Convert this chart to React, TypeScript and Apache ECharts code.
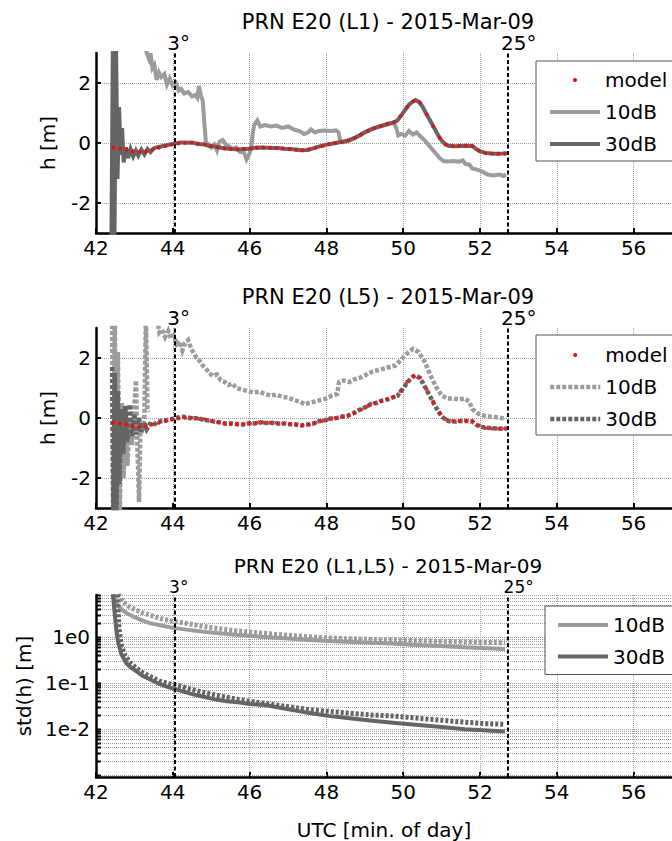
import React, { useEffect, useRef } from 'react';
import * as echarts from 'echarts';

const FONT = 'DejaVu Sans';
const LIGHT = '#9c9c9c';
const DARK = '#656565';
const RED = '#ff0000';
const GRIDLINE = '#a0a0a0';

const titles = ['PRN E20 (L1) - 2015-Mar-09', 'PRN E20 (L5) - 2015-Mar-09', 'PRN E20 (L1,L5) - 2015-Mar-09'];
const X_MIN = 42;
const X_MAX = 57;
const X_STEP = 2;
const H_MIN = -3;
const H_MAX = 3;
const hTicks = [-2, 0, 2];
const STD_MIN = 0.0009;
const STD_MAX = 8.2;
const stdLabelValues = [1, 0.1, 0.01];
const logGridValues = [
  0.001, 0.002, 0.003, 0.004, 0.005, 0.006, 0.007, 0.008, 0.009,
  0.01, 0.02, 0.03, 0.04, 0.05, 0.06, 0.07, 0.08, 0.09,
  0.1, 0.2, 0.3, 0.4, 0.5, 0.6, 0.7, 0.8, 0.9,
  1, 2, 3, 4, 5, 6, 7, 8,
];
const elevationX = [44.05, 52.72];
const elevationLabels = ['3°', '25°'];

// model (red dots), shared shape for L1 and L5
const modelH = [
  [42.45, -0.15], [42.62, -0.18], [42.79, -0.22], [42.96, -0.27], [43.13, -0.3], [43.3, -0.28],
  [43.47, -0.22], [43.64, -0.16], [43.81, -0.1], [43.98, -0.05], [44.15, -0.02], [44.32, 0.01],
  [44.49, 0.01], [44.66, -0.02], [44.83, -0.05], [45.0, -0.1], [45.17, -0.14], [45.34, -0.18],
  [45.51, -0.2], [45.68, -0.21], [45.85, -0.2], [46.02, -0.18], [46.19, -0.16], [46.36, -0.15],
  [46.53, -0.16], [46.7, -0.17], [46.87, -0.18], [47.04, -0.2], [47.21, -0.23], [47.38, -0.24],
  [47.55, -0.22], [47.72, -0.16], [47.89, -0.1], [48.06, -0.04], [48.23, 0.0], [48.4, 0.03],
  [48.57, 0.08], [48.74, 0.17], [48.91, 0.28], [49.08, 0.4], [49.25, 0.5], [49.42, 0.57],
  [49.59, 0.63], [49.76, 0.7], [49.93, 0.9], [50.1, 1.2], [50.27, 1.4], [50.44, 1.35],
  [50.61, 0.95], [50.78, 0.55], [50.95, 0.17], [51.12, -0.05], [51.29, -0.1], [51.46, -0.1],
  [51.63, -0.09], [51.8, -0.1], [51.97, -0.25], [52.14, -0.33], [52.31, -0.35], [52.48, -0.36],
  [52.65, -0.35],
];

const l1Db10 = [
  [43.28, 3.5], [43.32, 3.0], [43.38, 2.8], [43.42, 3.0], [43.47, 2.5], [43.52, 2.6], [43.58, 2.1],
  [43.64, 2.35], [43.7, 2.2], [43.78, 2.3], [43.85, 1.95], [43.92, 2.15], [44.0, 1.9], [44.08, 2.0],
  [44.15, 1.75], [44.22, 1.8], [44.3, 1.65], [44.4, 1.7], [44.5, 1.55], [44.58, 1.6], [44.64, 1.5],
  [44.68, 1.9], [44.73, 1.6], [44.78, 1.4], [44.82, 0.7], [44.86, 0.05], [44.92, -0.05], [45.0, -0.15],
  [45.08, -0.05], [45.15, -0.25], [45.22, 0.05], [45.3, 0.1], [45.38, -0.05], [45.45, -0.1],
  [45.55, -0.2], [45.65, -0.15], [45.75, -0.3], [45.85, -0.3], [45.92, -0.55], [45.98, -0.4],
  [46.04, -0.2], [46.08, 0.3], [46.12, 0.6], [46.2, 0.75], [46.28, 0.55], [46.4, 0.6], [46.55, 0.55],
  [46.7, 0.58], [46.85, 0.5], [47.0, 0.55], [47.15, 0.45], [47.3, 0.4], [47.42, 0.3], [47.52, 0.35],
  [47.6, 0.45], [47.7, 0.35], [47.8, 0.4], [47.95, 0.42], [48.1, 0.4], [48.25, 0.42], [48.32, 0.35],
  [48.36, 0.05], [48.45, 0.02], [48.6, 0.08], [48.8, 0.2], [49.0, 0.35], [49.2, 0.48], [49.4, 0.55],
  [49.6, 0.62], [49.75, 0.68], [49.82, 0.5], [49.87, 0.25], [49.95, 0.3], [50.05, 0.25], [50.15, 0.4],
  [50.25, 0.28], [50.35, 0.35], [50.45, 0.22], [50.55, 0.1], [50.65, -0.05], [50.75, -0.2],
  [50.85, -0.35], [50.95, -0.5], [51.05, -0.6], [51.15, -0.62], [51.3, -0.6], [51.45, -0.62],
  [51.55, -0.58], [51.62, -0.7], [51.72, -0.72], [51.8, -0.85], [51.9, -0.88], [52.0, -0.92],
  [52.1, -0.98], [52.2, -1.05], [52.35, -1.08], [52.5, -1.05], [52.62, -1.1], [52.68, -1.05],
];

const l1Db30 = [
  [42.4, -3.5], [42.44, 3.5], [42.48, -3.5], [42.52, 3.5], [42.56, -1.2], [42.6, 1.2], [42.64, -0.4],
  [42.68, 0.5], [42.72, -0.65], [42.78, -0.15], [42.84, -0.5], [42.9, -0.2], [42.97, -0.45],
  [43.04, -0.25], [43.1, -0.42], [43.18, -0.22], [43.26, -0.38], [43.34, -0.2], [43.42, -0.3],
  [43.5, -0.18], [43.6, -0.14], [43.75, -0.1], [43.9, -0.06], [44.05, -0.02], [44.2, 0.02],
  [44.35, 0.01], [44.5, 0.02], [44.65, -0.03], [44.8, -0.04], [44.95, -0.1], [45.1, -0.12],
  [45.25, -0.16], [45.4, -0.18], [45.55, -0.2], [45.7, -0.22], [45.85, -0.2], [46.0, -0.19],
  [46.15, -0.16], [46.3, -0.15], [46.45, -0.16], [46.6, -0.17], [46.75, -0.17], [46.9, -0.19],
  [47.05, -0.2], [47.2, -0.22], [47.35, -0.24], [47.5, -0.23], [47.65, -0.18], [47.8, -0.12],
  [47.95, -0.07], [48.1, -0.03], [48.25, 0.0], [48.4, 0.04], [48.55, 0.08], [48.7, 0.15],
  [48.85, 0.25], [49.0, 0.36], [49.15, 0.45], [49.3, 0.52], [49.45, 0.58], [49.6, 0.64],
  [49.75, 0.68], [49.85, 0.75], [49.95, 0.92], [50.05, 1.1], [50.15, 1.28], [50.25, 1.38],
  [50.32, 1.43], [50.4, 1.38], [50.5, 1.22], [50.6, 0.98], [50.7, 0.75], [50.8, 0.52], [50.9, 0.28],
  [51.0, 0.08], [51.1, -0.05], [51.2, -0.1], [51.35, -0.11], [51.5, -0.1], [51.65, -0.09],
  [51.8, -0.1], [51.9, -0.2], [52.0, -0.28], [52.15, -0.33], [52.3, -0.35], [52.45, -0.36],
  [52.6, -0.35], [52.7, -0.34],
];

const l5Db10 = [
  [42.42, 3.5], [42.45, -3.5], [42.49, 3.5], [42.53, -3.5], [42.57, 2.2], [42.62, -3.2], [42.67, 0.5],
  [42.72, -2.0], [42.77, 0.2], [42.82, -1.6], [42.88, 0.0], [42.94, -0.9], [43.0, 0.4], [43.04, 1.25],
  [43.08, -1.0], [43.12, -2.8], [43.16, -0.2], [43.2, -0.5], [43.26, 0.1], [43.3, 3.5], [43.34, 0.3],
  [43.37, 0.2], [43.45, null], [43.6, 3.3], [43.65, 2.85], [43.72, 2.95], [43.8, 2.7], [43.88, 2.9],
  [43.95, 2.65], [44.02, 2.75], [44.1, 2.45], [44.18, 2.55], [44.25, 2.25], [44.32, 2.5], [44.4, 2.6],
  [44.48, 2.3], [44.55, 2.15], [44.62, 2.0], [44.7, 1.9], [44.78, 1.75], [44.86, 1.65], [44.95, 1.5],
  [45.05, 1.4], [45.15, 1.45], [45.25, 1.25], [45.35, 1.2], [45.45, 1.1], [45.55, 1.15], [45.65, 1.0],
  [45.8, 0.95], [45.95, 0.9], [46.1, 0.85], [46.25, 0.88], [46.4, 0.8], [46.55, 0.75], [46.7, 0.78],
  [46.85, 0.7], [47.0, 0.68], [47.15, 0.6], [47.3, 0.55], [47.45, 0.45], [47.55, 0.5], [47.7, 0.55],
  [47.85, 0.6], [48.0, 0.65], [48.15, 0.75], [48.28, 0.8], [48.33, 1.2], [48.45, 1.25], [48.6, 1.2],
  [48.75, 1.3], [48.9, 1.35], [49.05, 1.45], [49.2, 1.55], [49.35, 1.6], [49.5, 1.65], [49.65, 1.7],
  [49.8, 1.75], [49.95, 1.95], [50.1, 2.15], [50.25, 2.3], [50.4, 2.2], [50.55, 1.9], [50.7, 1.45],
  [50.85, 1.05], [51.0, 0.75], [51.15, 0.65], [51.3, 0.65], [51.45, 0.62], [51.6, 0.65], [51.72, 0.55],
  [51.8, 0.3], [51.95, 0.15], [52.1, 0.08], [52.25, 0.05], [52.4, 0.03], [52.55, 0.0], [52.68, -0.02],
];

const l5Db30 = [
  [42.42, 1.7], [42.45, -3.5], [42.49, 1.5], [42.53, -3.5], [42.57, 0.9], [42.61, -2.2], [42.66, 0.3],
  [42.71, -1.2], [42.76, 0.4], [42.82, -0.8], [42.88, 0.45], [42.94, -0.6], [43.0, 0.15], [43.06, -0.55],
  [43.12, 0.0], [43.18, -0.45], [43.25, -0.15], [43.32, -0.38], [43.4, -0.2], [43.5, -0.25],
  [43.6, -0.12], [43.75, -0.1], [43.9, -0.05], [44.05, -0.02], [44.2, 0.04], [44.35, 0.03],
  [44.5, -0.02], [44.65, 0.0], [44.8, -0.06], [44.95, -0.08], [45.1, -0.13], [45.25, -0.15],
  [45.4, -0.19], [45.55, -0.18], [45.7, -0.21], [45.85, -0.22], [46.0, -0.17], [46.15, -0.18],
  [46.3, -0.14], [46.45, -0.17], [46.6, -0.16], [46.75, -0.19], [46.9, -0.18], [47.05, -0.21],
  [47.2, -0.21], [47.35, -0.25], [47.5, -0.22], [47.65, -0.19], [47.8, -0.11], [47.95, -0.08],
  [48.1, -0.02], [48.25, -0.01], [48.4, 0.05], [48.55, 0.07], [48.7, 0.16], [48.85, 0.27], [49.0, 0.35],
  [49.15, 0.46], [49.3, 0.5], [49.45, 0.58], [49.6, 0.62], [49.75, 0.7], [49.85, 0.74], [49.95, 0.9],
  [50.05, 1.08], [50.15, 1.25], [50.25, 1.37], [50.32, 1.42], [50.4, 1.36], [50.5, 1.2], [50.6, 0.96],
  [50.7, 0.72], [50.8, 0.48], [50.9, 0.25], [51.0, 0.06], [51.1, -0.06], [51.2, -0.11], [51.35, -0.12],
  [51.5, -0.1], [51.65, -0.1], [51.8, -0.12], [51.9, -0.22], [52.0, -0.29], [52.15, -0.32],
  [52.3, -0.34], [52.45, -0.35], [52.6, -0.36], [52.7, -0.35],
];

const stdL1Db10 = [
  [42.44, 8.5], [42.5, 6.0], [42.6, 4.5], [42.7, 3.8], [42.8, 3.3], [43.0, 2.7], [43.2, 2.3], [43.4, 2.0],
  [43.7, 1.78], [44.0, 1.58], [44.4, 1.43], [44.8, 1.3], [45.2, 1.2], [45.7, 1.1], [46.2, 1.03],
  [46.7, 0.96], [47.2, 0.9], [47.7, 0.85], [48.2, 0.81], [48.7, 0.78], [49.2, 0.75], [49.7, 0.72],
  [50.2, 0.68], [50.7, 0.65], [51.2, 0.62], [51.7, 0.59], [52.2, 0.57], [52.65, 0.55],
];
const stdL1Db30 = [
  [42.44, 8.5], [42.5, 2.5], [42.54, 1.2], [42.58, 0.75], [42.66, 0.42], [42.79, 0.27], [42.9, 0.22],
  [43.05, 0.18], [43.2, 0.145], [43.4, 0.12], [43.65, 0.095], [43.9, 0.08], [44.2, 0.068], [44.5, 0.057],
  [44.8, 0.05], [45.1, 0.044], [45.4, 0.04], [45.7, 0.038], [46.0, 0.035], [46.4, 0.033], [46.8, 0.029],
  [47.2, 0.025], [47.6, 0.022], [48.1, 0.019], [48.6, 0.017], [49.2, 0.015], [49.8, 0.0135],
  [50.4, 0.0122], [51.0, 0.011], [51.6, 0.0099], [52.2, 0.0092], [52.65, 0.0088],
];
const stdL5Db10 = [
  [42.58, 8.5], [42.7, 5.8], [42.85, 4.7], [43.0, 4.0], [43.2, 3.4], [43.4, 3.0], [43.7, 2.5], [44.0, 2.2],
  [44.4, 1.95], [44.8, 1.7], [45.2, 1.52], [45.7, 1.35], [46.2, 1.24], [46.7, 1.14], [47.2, 1.06],
  [47.7, 0.99], [48.2, 0.94], [48.7, 0.91], [49.2, 0.88], [49.7, 0.86], [50.2, 0.84], [50.7, 0.82],
  [51.2, 0.8], [51.7, 0.78], [52.2, 0.76], [52.65, 0.75],
];
const stdL5Db30 = [
  [42.56, 8.5], [42.6, 1.5], [42.65, 0.7], [42.75, 0.4], [42.9, 0.27], [43.05, 0.21], [43.2, 0.17],
  [43.4, 0.14], [43.65, 0.11], [43.9, 0.097], [44.2, 0.085], [44.5, 0.072], [44.8, 0.062], [45.1, 0.055],
  [45.4, 0.049], [45.7, 0.044], [46.0, 0.04], [46.4, 0.036], [46.8, 0.032], [47.2, 0.029], [47.6, 0.026],
  [48.1, 0.024], [48.6, 0.022], [49.2, 0.02], [49.8, 0.019], [50.4, 0.017], [51.0, 0.0155], [51.6, 0.014],
  [52.2, 0.013], [52.65, 0.0126],
];

// layout / style (not data)
const GRID_LEFT = 96;
const GRID_WIDTH = 584;
const gridTops = [53, 328, 595];
const gridHeights = [180, 180, 182];
const titleTops = [11, 286, 556];
const titleSizes = [21, 21, 20];
const legendTops = [61, 335, 606];
const legendLefts = [536, 536, 545];
const legendPaddings = [[9, 6, 7, 12], [10, 6, 6, 12], [9, 8, 8, 11]];
const legendGaps = [12, 12, 11.5];
const legendLineWidths = [4, 4.5, 4];
const elevationLabelOffsets = [[4, 0], [11, 0]];
const elevationLabelSizes = [20, 20, 17];
const DOTTED = [4, 2];
const DASHED = [3, 2];

const textBase = { color: '#000', fontFamily: FONT, fontSize: 20 };

function elevationMarkLine(panel: number) {
  return {
    silent: true,
    symbol: ['none', 'none'],
    animation: false,
    lineStyle: { color: '#000', width: 2, type: [4, 2.5] },
    label: { show: true, position: 'end', distance: 0, ...textBase, fontSize: elevationLabelSizes[panel], formatter: (p: any) => p.name },
    data: elevationX.map((x, i) => ({ xAxis: x, name: elevationLabels[i], label: { offset: elevationLabelOffsets[i] } })),
  };
}

function lineSeries(name: string, data: any[], color: string, grid: number, dash: any, width: number, z = 3) {
  return {
    type: 'line',
    name,
    data,
    xAxisIndex: grid,
    yAxisIndex: grid,
    symbol: 'none',
    showSymbol: false,
    connectNulls: false,
    silent: true,
    z,
    itemStyle: { color },
    lineStyle: { color, width, type: dash, cap: 'butt', join: 'miter' },
  };
}

function modelSeries(name: string, grid: number) {
  return {
    type: 'scatter',
    name,
    data: modelH,
    xAxisIndex: grid,
    yAxisIndex: grid,
    symbol: 'circle',
    symbolSize: 4,
    silent: true,
    z: 5,
    itemStyle: { color: RED },
    markLine: elevationMarkLine(grid),
  };
}

function xAxis(grid: number, withName: boolean) {
  return {
    type: 'value',
    gridIndex: grid,
    min: X_MIN,
    max: X_MAX,
    interval: X_STEP,
    axisLine: { show: true, onZero: false, lineStyle: { color: '#000', width: 2.5 } },
    axisTick: { show: true, inside: true, length: 5, lineStyle: { color: '#000', width: 2 } },
    axisLabel: { ...textBase, margin: 5, showMaxLabel: false, formatter: (v: number) => (v > X_MAX - 1 ? '' : String(v)) },
    splitLine: { show: true, lineStyle: { color: GRIDLINE, width: 1, type: [1, 1] } },
    name: withName ? 'UTC [min. of day]' : '',
    nameLocation: 'middle',
    nameGap: 43,
    nameTextStyle: textBase,
  };
}

function hAxis(grid: number) {
  return {
    type: 'value',
    gridIndex: grid,
    min: H_MIN,
    max: H_MAX,
    axisLine: { show: true, onZero: false, lineStyle: { color: '#000', width: 2.5 } },
    axisTick: { show: true, inside: true, length: 5, customValues: hTicks, lineStyle: { color: '#000', width: 2 } },
    axisLabel: { ...textBase, margin: 5, customValues: hTicks },
    splitLine: { show: true, lineStyle: { color: GRIDLINE, width: 1, type: [1, 1] } },
    name: 'h [m]',
    nameLocation: 'middle',
    nameGap: 38,
    nameTextStyle: textBase,
  };
}

function legend(i: number, names: string[], modelName: string | null) {
  return {
    orient: 'vertical',
    left: legendLefts[i],
    top: legendTops[i],
    padding: legendPaddings[i],
    itemGap: legendGaps[i],
    itemWidth: 50,
    itemHeight: 4,
    backgroundColor: '#fff',
    borderColor: '#555',
    borderWidth: 1,
    borderRadius: 0,
    selectedMode: false,
    textStyle: { ...textBase },
    lineStyle: { width: legendLineWidths[i] },
    formatter: (n: string) => n.split('|')[1],
    data: names.map((n) =>
      n === modelName
        ? { name: n, icon: 'circle', itemStyle: { color: RED, opacity: 1 } }
        : { name: n, itemStyle: { opacity: 0 }, lineStyle: { width: legendLineWidths[i] } }
    ),
  };
}

export default function App() {
  const ref = useRef<HTMLDivElement>(null);
  useEffect(() => {
    if (!ref.current) return;
    const chart = echarts.init(ref.current, undefined, { renderer: 'svg' });
    const option: any = {
      animation: false,
      backgroundColor: '#fff',
      textStyle: { fontFamily: FONT },
      title: titles.map((t, i) => ({
        text: t,
        left: GRID_LEFT + GRID_WIDTH / 2,
        textAlign: 'center',
        top: titleTops[i],
        padding: 0,
        textStyle: { ...textBase, fontSize: titleSizes[i], fontWeight: 'normal' },
      })),
      grid: gridTops.map((t, i) => ({ left: GRID_LEFT, width: GRID_WIDTH, top: t, height: gridHeights[i], containLabel: false })),
      legend: [
        legend(0, ['L1|model', 'L1|10dB', 'L1|30dB'], 'L1|model'),
        legend(1, ['L5|model', 'L5|10dB', 'L5|30dB'], 'L5|model'),
        legend(2, ['S|10dB', 'S|30dB'], null),
      ],
      xAxis: [xAxis(0, false), xAxis(1, false), xAxis(2, true)],
      yAxis: [
        hAxis(0),
        hAxis(1),
        {
          type: 'log',
          logBase: 10,
          gridIndex: 2,
          min: STD_MIN,
          max: STD_MAX,
          axisLine: { show: true, onZero: false, lineStyle: { color: '#000', width: 2.5 } },
          axisTick: { show: false },
          splitLine: { show: false },
          axisLabel: {
            ...textBase,
            margin: 6,
            showMinLabel: false,
            showMaxLabel: false,
            formatter: (v: number) => {
              const hit = stdLabelValues.find((s) => Math.abs(Math.log10(v) - Math.log10(s)) < 1e-6);
              return hit === undefined ? '' : '1e' + Math.round(Math.log10(hit));
            },
          },
          name: 'std(h) [m]',
          nameLocation: 'middle',
          nameGap: 61,
          nameTextStyle: textBase,
        },
      ],
      series: [
        lineSeries('L1|10dB', l1Db10, LIGHT, 0, 'solid', 4),
        lineSeries('L1|30dB', l1Db30, DARK, 0, 'solid', 4),
        modelSeries('L1|model', 0),
        lineSeries('L5|10dB', l5Db10, LIGHT, 1, DOTTED, 4.5),
        lineSeries('L5|30dB', l5Db30, DARK, 1, DOTTED, 4.5),
        modelSeries('L5|model', 1),
        {
          type: 'custom',
          name: 'loggrid',
          xAxisIndex: 2,
          yAxisIndex: 2,
          z: 1,
          silent: true,
          data: logGridValues.map((v) => [X_MIN, v]),
          renderItem: (params: any, api: any) => {
            const cs = params.coordSys;
            const p = api.coord([api.value(0), api.value(1)]);
            const y = Math.round(p[1]) + 0.5;
            return {
              type: 'group',
              children: [
                { type: 'line', shape: { x1: cs.x, y1: y, x2: cs.x + cs.width, y2: y }, style: { stroke: GRIDLINE, lineWidth: 1, lineDash: [1, 1] } },
                { type: 'line', shape: { x1: cs.x, y1: y, x2: cs.x + 5, y2: y }, style: { stroke: '#000', lineWidth: 2 } },
              ],
            };
          },
        },
        lineSeries('S|10dB', stdL1Db10, LIGHT, 2, 'solid', 4),
        lineSeries('S|30dB', stdL1Db30, DARK, 2, 'solid', 4),
        lineSeries('D|10dB', stdL5Db10, LIGHT, 2, DASHED, 5),
        { ...lineSeries('D|30dB', stdL5Db30, DARK, 2, DASHED, 5), markLine: elevationMarkLine(2) },
      ],
    };
    chart.setOption(option);
    return () => chart.dispose();
  }, []);
  return <div ref={ref} style={{ position: 'absolute', left: 0, top: 0, width: 672, height: 841, background: '#fff' }} />;
}
